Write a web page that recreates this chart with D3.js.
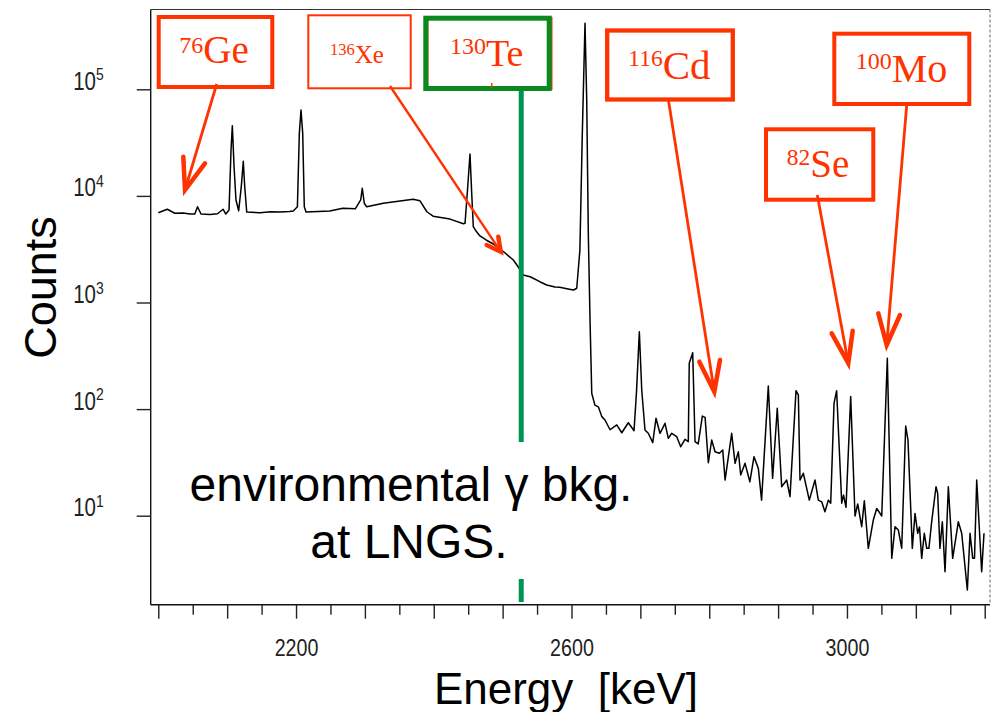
<!DOCTYPE html>
<html>
<head>
<meta charset="utf-8">
<script src="https://cdn.jsdelivr.net/npm/d3@7"></script>
<style>
  html, body { margin: 0; padding: 0; background: #fff; }
  svg { display: block; }
</style>
</head>
<body>
<svg id="chart" width="993" height="712"></svg>
<script>
// spectrum: energy [keV] and counts per bin
const energy = [
  2000, 2013, 2024, 2036, 2046, 2053, 2057, 2062, 2075, 2086, 2094, 2098,
  2102.7, 2105.6, 2107.5, 2110, 2112.8, 2116.7, 2120.5, 2123.4, 2125.5, 2128.4,
  2148, 2163, 2177, 2190, 2196, 2202, 2204.8, 2207.2, 2209.7, 2212, 2214.5,
  2232, 2249, 2268, 2286, 2293.9, 2296.2, 2299.1, 2302.6, 2326.7, 2351, 2370,
  2380, 2390, 2399, 2423.6, 2443, 2445.4, 2449.3, 2452.6, 2455.1, 2457.4,
  2460.3, 2467, 2476, 2486.5, 2501, 2515.5, 2523, 2530, 2540, 2554, 2564,
  2576, 2583, 2595, 2603, 2607.6, 2612.2, 2615.7, 2619.6, 2622.1, 2624.4,
  2626.9, 2629.4, 2634, 2639, 2644, 2648.6, 2656, 2665.7, 2673, 2682.5,
  2690.8, 2694.5, 2698.5, 2702, 2706.7, 2711.5, 2718, 2722.7, 2728.5, 2735.8,
  2740.6, 2745.5, 2752.8, 2758.6, 2764.8, 2769.6, 2771, 2776, 2779.4, 2784,
  2790, 2794, 2798.7, 2803.6, 2808.4, 2814.6, 2819.6, 2823, 2832.6, 2837.5,
  2842.3, 2845.7, 2852, 2859, 2865, 2871.3, 2876, 2885.8, 2892, 2898.8,
  2905.2, 2912.5, 2917.3, 2926, 2929.4, 2931.8, 2936.6, 2945.3, 2953.6,
  2958.4, 2963.3, 2968, 2973, 2976.4, 2981.2, 2985, 2992.4, 2995, 2998.6,
  3005.4, 3011.7, 3015.6, 3021.4, 3025.2, 3031, 3038.3, 3043.2, 3050.5,
  3058.6, 3065, 3069.8, 3074.6, 3079.5, 3085.3, 3088.6, 3094.9, 3098.8,
  3102.7, 3105.3, 3108.5, 3112.3, 3115.8, 3119, 3123, 3129.3, 3131.7, 3135,
  3138.5, 3142.4, 3147.2, 3153.5, 3161.7, 3166.6, 3174.8, 3178.7, 3182.6,
  3185.2, 3188.4, 3195.6, 3199
];
const counts = [
  6950, 7500, 6870, 6920, 6760, 6760, 7900, 6760, 6700, 6800, 7500, 6760,
  7380, 27000, 45600, 18800, 9160, 7260, 12200, 21100, 12200, 7050,
  6950, 7100, 7050, 7150, 7230, 7900, 38600, 63900, 38600, 7900, 7050,
  7150, 7200, 7650, 7560, 9160, 11800, 8530, 7900, 8530, 8940, 9300,
  9000, 7100, 6450, 6060, 5470, 5530, 12200, 24700, 10600, 5140,
  4790, 4210, 3860, 3540, 3010, 2505, 2140, 1810, 1745, 1567, 1460,
  1400, 1390, 1340, 1310, 1360, 3110, 38600, 416000, 79400, 4460,
  684, 141, 109, 105, 85, 79, 64, 71, 60, 74.5,
  62.7, 150, 532, 151, 63.7, 59.3, 48.4, 82, 59.3, 73.6,
  53.2, 59.3, 55.1, 44.4, 52.1, 49.5, 269, 338, 49.5, 47.1,
  86, 83.7, 31.4, 51.3, 39.8, 38.5, 41.3, 21.6, 59.3, 31,
  39.8, 24.1, 31, 20.8, 35.8, 27.8, 14, 165, 22.4, 102,
  18.7, 21.6, 15.1, 149, 136, 21.6, 25, 14, 21.6,
  14, 13.5, 10.9, 14, 13.1, 113, 149, 13.1, 15.6, 12,
  131, 9.93, 12.9, 7.89, 13.8, 4.94, 9.12, 11.7, 9.93,
  300, 3.98, 7.89, 7.34, 4.94, 69.3, 51.3, 4.94, 10.5,
  6.84, 7.84, 3.98, 6.84, 4.94, 4.94, 8.79, 18.7, 16.2, 4.94,
  8.79, 2.98, 18.7, 3.98, 8.79, 6.84, 2.01, 6.84, 3.98,
  3.98, 21.6, 2.98, 6.84
];

const yTicks = [1e1, 1e2, 1e3, 1e4, 1e5];
const xMajor = d3.range(2000, 3201, 100);
const xMinor = d3.range(2050, 3200, 100);
const xLabels = [2200, 2600, 3000];
const teQ = 2527; // 130Te Q-value marker

// isotope call-outs (box + label + arrow), layout in pixels
const callouts = [
  { mass: "76", sym: "Ge", box: [158.7, 17, 272.3, 87], sw: 4, tx: 179.3, ty: 63.3, fs: 39, ms: 24, up: 10.4,
    from: [216.7, 84], tip: [185, 190], arms: [[183.3, 156.7], [205, 163.3]], lw: 2.8 },
  { mass: "136", sym: "Xe", box: [308.3, 15.3, 410.7, 88.3], sw: 2, tx: 330, ty: 62.7, fs: 25, ms: 16.5, up: 7.4,
    from: [390, 86], tip: [500.7, 251.7], arms: [[486.7, 245], [498.3, 236.7]], lw: 2.4 },
  { mass: "116", sym: "Cd", box: [607.2, 30.5, 732.8, 99.5], sw: 4.3, tx: 628.3, ty: 79, fs: 41, ms: 23.5, up: 13,
    from: [668.3, 99.3], tip: [714.3, 391.7], arms: [[699.3, 361.7], [720, 360]], lw: 2.8 },
  { mass: "82", sym: "Se", box: [766, 129.3, 873.3, 199.7], sw: 4, tx: 786.7, ty: 176.7, fs: 39, ms: 23.5, up: 11.4,
    from: [817.3, 195], tip: [848.3, 363.3], arms: [[831.7, 333.3], [852.7, 330.7]], lw: 2.8 },
  { mass: "100", sym: "Mo", box: [834.3, 33.7, 969.3, 104], sw: 4, tx: 855.7, ty: 81.7, fs: 40, ms: 24, up: 12.8,
    from: [906.7, 105], tip: [886.7, 345], arms: [[878.3, 313.3], [900, 315]], lw: 2.8 }
];

const RED = "#ff3300";
const GREEN_BOX = "#0a8a1e";
const GREEN_LINE = "#009452";
const SANS = '"Liberation Sans", Arial, Helvetica, sans-serif';
const SERIF = '"Liberation Serif", "Times New Roman", serif';
const NARROW = 0.82; // tick labels are a condensed face

const svg = d3.select("#chart");
const frame = { left: 150.7, top: 9.5, right: 990, bottom: 604.7 };

const x = d3.scaleLinear().domain([2000, 3200]).range([158.3, 984.7]);
const y = d3.scaleLog().domain([1e1, 1e5]).range([515.7, 89.3]);

// frame
svg.append("line").attr("x1", frame.left).attr("x2", frame.left).attr("y1", frame.top).attr("y2", frame.bottom)
  .attr("stroke", "#111").attr("stroke-width", 1.4);
svg.append("line").attr("x1", frame.left).attr("x2", frame.right).attr("y1", frame.bottom).attr("y2", frame.bottom)
  .attr("stroke", "#111").attr("stroke-width", 1.4);
svg.append("line").attr("x1", frame.left).attr("x2", frame.right).attr("y1", frame.top).attr("y2", frame.top)
  .attr("stroke", "#333").attr("stroke-width", 1.2);
svg.append("line").attr("x1", frame.right).attr("x2", frame.right).attr("y1", frame.top).attr("y2", frame.bottom)
  .attr("stroke", "#666").attr("stroke-width", 1).attr("stroke-dasharray", "3,2");

// x axis: minor + major ticks below the frame
const gxMinor = svg.append("g").attr("transform", `translate(0,${frame.bottom})`)
  .call(d3.axisBottom(x).tickValues(xMinor).tickSize(10).tickFormat(""));
const gxMajor = svg.append("g").attr("transform", `translate(0,${frame.bottom})`)
  .call(d3.axisBottom(x).tickValues(xMajor).tickSize(14).tickPadding(20)
    .tickFormat(d => xLabels.includes(d) ? d : ""));
[gxMinor, gxMajor].forEach(g => {
  g.select(".domain").remove();
  g.selectAll(".tick line").attr("stroke", "#222").attr("stroke-width", 1.4);
});
gxMajor.selectAll(".tick text")
  .attr("font-family", SANS).attr("font-size", 24).attr("fill", "#222")
  .attr("transform", `scale(${NARROW},1)`);

// y axis: decades with 10^n labels
const gy = svg.append("g").attr("transform", `translate(${frame.left},0)`)
  .call(d3.axisLeft(y).tickValues(yTicks).tickSize(14).tickPadding(33));
gy.select(".domain").remove();
gy.selectAll(".tick line").attr("stroke", "#222").attr("stroke-width", 1.4);
gy.selectAll(".tick text")
  .text(null)
  .attr("dy", 0)
  .attr("x", 0)
  .attr("transform", `translate(-47,0) scale(${NARROW},1)`)
  .attr("font-family", SANS).attr("font-size", 25).attr("fill", "#222")
  .each(function (d) {
    const t = d3.select(this);
    t.append("tspan").text("10");
    t.append("tspan").attr("dy", -9.5).attr("font-size", 17).text(Math.round(Math.log10(d)));
  });

// axis titles
svg.append("text")
  .attr("transform", "translate(55.5,287.5) rotate(-90)")
  .attr("text-anchor", "middle")
  .attr("font-family", SANS).attr("font-size", 45)
  .text("Counts");
svg.append("text")
  .attr("x", 566).attr("y", 704)
  .attr("text-anchor", "middle")
  .attr("font-family", SANS).attr("font-size", 44)
  .style("white-space", "pre")
  .text("Energy  [keV]");

// spectrum
const line = d3.line().x(d => x(d[0])).y(d => y(d[1]));
svg.append("path")
  .datum(d3.zip(energy, counts))
  .attr("fill", "none")
  .attr("stroke", "#000")
  .attr("stroke-width", 1.5)
  .attr("stroke-linejoin", "round")
  .attr("d", line);

// 130Te marker line (interrupted by the text)
const xTe = x(teQ);
[[90, 442], [579, 602]].forEach(([a, b]) => {
  svg.append("line").attr("x1", xTe).attr("x2", xTe).attr("y1", a).attr("y2", b)
    .attr("stroke", GREEN_LINE).attr("stroke-width", 5);
});

// environmental text
const env = svg.append("g").attr("font-family", SANS).attr("font-size", 48).attr("text-anchor", "middle");
env.append("text").attr("x", 411).attr("y", 501).text("environmental γ bkg.");
env.append("text").attr("x", 409).attr("y", 558).text("at LNGS.");

// call-outs
const cg = svg.append("g");
callouts.forEach(c => {
  cg.append("rect")
    .attr("x", c.box[0]).attr("y", c.box[1])
    .attr("width", c.box[2] - c.box[0]).attr("height", c.box[3] - c.box[1])
    .attr("fill", "none").attr("stroke", RED).attr("stroke-width", c.sw);
  const t = cg.append("text").attr("x", c.tx).attr("y", c.ty)
    .attr("font-family", SERIF).attr("fill", RED).attr("font-size", c.fs);
  t.append("tspan").attr("font-size", c.ms).attr("dy", -c.up).text(c.mass);
  t.append("tspan").attr("dy", c.up).text(c.sym);
  cg.append("line")
    .attr("x1", c.from[0]).attr("y1", c.from[1]).attr("x2", c.tip[0]).attr("y2", c.tip[1])
    .attr("stroke", RED).attr("stroke-width", c.lw);
  cg.append("path")
    .attr("d", `M${c.arms[0][0]},${c.arms[0][1]}L${c.tip[0]},${c.tip[1]}L${c.arms[1][0]},${c.arms[1][1]}`)
    .attr("fill", "none").attr("stroke", RED).attr("stroke-width", 4.5)
    .attr("stroke-linecap", "round").attr("stroke-linejoin", "miter");
});

// 130Te box: red box under a green frame
cg.append("rect").attr("x", 427).attr("y", 18.5).attr("width", 124).attr("height", 70)
  .attr("fill", "none").attr("stroke", RED).attr("stroke-width", 3);
cg.append("rect").attr("x", 425.8).attr("y", 18.2).attr("width", 123.4).attr("height", 70.3)
  .attr("fill", "none").attr("stroke", GREEN_BOX).attr("stroke-width", 5);
cg.append("line").attr("x1", 491.7).attr("x2", 491.7).attr("y1", 83).attr("y2", 88)
  .attr("stroke", RED).attr("stroke-width", 1.5);
const te = cg.append("text").attr("x", 450).attr("y", 66)
  .attr("font-family", SERIF).attr("fill", RED).attr("font-size", 38);
te.append("tspan").attr("font-size", 24).attr("dy", -12.5).text("130");
te.append("tspan").attr("dy", 12.5).text("Te");
</script>
</body>
</html>
